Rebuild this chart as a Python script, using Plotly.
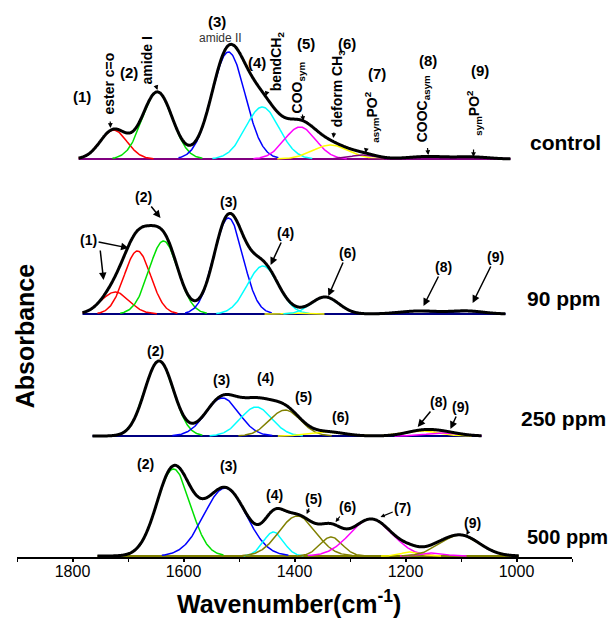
import numpy as np
import plotly.graph_objects as go

# ---- Band-fit parameters of each FTIR spectrum (centre cm-1, height a.u., sigma cm-1) ----
samples = ["control", "90 ppm", "250 ppm", "500 ppm"]

control_centers = [1726, 1647, 1519, 1458, 1390, 1335, 1275, 1160, 1080]
control_heights = [29, 67, 107, 52, 32, 14, 4, 2.5, 2]
control_sigmas = [24, 27, 30, 30, 28, 32, 25, 35, 30]

ppm90_centers = [1723, 1683, 1636, 1519, 1457, 1400, 1345, 1175, 1090]
ppm90_heights = [22, 63, 73, 96, 48, 0.8, 17, 3, 3]
ppm90_sigmas = [25, 24, 26, 26, 28, 18, 25, 35, 30]

ppm250_centers = [1644, 1530, 1469, 1417, 1340, 1170, 1130]
ppm250_heights = [75, 38, 29, 26, 4, 5, 3]
ppm250_sigmas = [26, 30, 28, 28, 30, 30, 30]

ppm500_centers = [1618, 1525, 1438, 1395, 1334, 1262, 1190, 1150, 1102]
ppm500_heights = [87, 68, 24, 40, 19, 37, 4, 3, 21]
ppm500_sigmas = [30, 38, 18, 33, 20, 38, 18, 20, 35]

# recorded wavenumber span of each spectrum
spans = [(1789, 1011), (1782, 1020), (1764, 1063), (1755, 996)]

# ---- styling ----
RED, GRN, BLU, CYN, MAG, YEL, OLV = "#ff0000", "#00e000", "#0000ff", "#00ffff", "#ff00ff", "#ffff00", "#808000"
NAVY, PURP = "#000080", "#800080"
band_colors = [
    [RED, GRN, BLU, CYN, MAG, YEL, PURP, PURP, PURP],
    [RED, RED, GRN, BLU, CYN, YEL, CYN, NAVY, NAVY],
    [GRN, BLU, CYN, OLV, YEL, YEL, MAG],
    [GRN, BLU, CYN, OLV, OLV, MAG, YEL, MAG, OLV],
]
baseline_colors = [PURP, NAVY, NAVY, OLV]
stack_offsets = [397, 242, 120, 0]

params = [
    (control_centers, control_heights, control_sigmas),
    (ppm90_centers, ppm90_heights, ppm90_sigmas),
    (ppm250_centers, ppm250_heights, ppm250_sigmas),
    (ppm500_centers, ppm500_heights, ppm500_sigmas),
]


def gauss(x, c, h, s):
    return h * np.exp(-((x - c) ** 2) / (2.0 * s * s))


fig = go.Figure()

for i, (cs, hs, ss) in enumerate(params):
    off = stack_offsets[i]
    hi, lo = spans[i]
    # baseline
    fig.add_trace(go.Scatter(x=[hi, lo], y=[off, off], mode="lines",
                             line=dict(color=baseline_colors[i], width=2),
                             hoverinfo="skip", showlegend=False))
    # fitted bands
    for c, h, s, col in zip(cs, hs, ss, band_colors[i]):
        a = max(lo, c - 3 * s)
        b = min(hi, c + 3 * s)
        xb = np.arange(a, b + 0.5, 1.0)
        fig.add_trace(go.Scatter(x=xb, y=off + gauss(xb, c, h, s), mode="lines",
                                 line=dict(color=col, width=1.5),
                                 hoverinfo="skip", showlegend=False))
    # envelope
    xs = np.arange(lo, hi + 0.5, 1.0)
    tot = np.zeros_like(xs, dtype=float)
    for c, h, s in zip(cs, hs, ss):
        tot += gauss(xs, c, h, s)
    fig.add_trace(go.Scatter(x=xs, y=off + tot, mode="lines",
                             line=dict(color="black", width=3, shape="spline"),
                             name=samples[i], showlegend=False))

FONT = "Arial, Liberation Sans, sans-serif"
ann = []


def label(x, y, text, size=14, angle=0, bold=True, color="black", tip=None,
          head=2, hsize=1.0, hwidth=1.5, sso=0):
    """Text label; with tip=(x, y) it carries an arrow pointing at that spot."""
    t = f"<b>{text}</b>" if bold else text
    a = dict(xref="x", yref="y", text=t, textangle=angle,
             font=dict(family=FONT, size=size, color=color))
    if tip is None:
        a.update(x=x, y=y, showarrow=False, xanchor="center", yanchor="middle")
    else:
        # arrow tail sits at the label; offsets in screen pixels
        a.update(x=tip[0], y=tip[1], showarrow=True,
                 ax=(tip[0] - x) * 0.555, ay=(tip[1] - y) * 1.0,
                 arrowhead=head, arrowsize=hsize, arrowwidth=hwidth,
                 arrowcolor="black", startstandoff=sso)
    ann.append(a)


# control
label(1782, 460, "(1)", 15)
label(1735, 472, "ester c=o", 14, -90, tip=(1731.5, 428), hsize=0.8, hwidth=1.2, sso=5)
label(1699, 484, "(2)", 15)
label(1665, 496, "amide I", 14, -90, tip=(1647, 466), hsize=0.8, hwidth=1.2)
label(1539, 535, "(3)", 15)
label(1533, 518, "amide II", 12, bold=False, color="#333333", tip=(1519, 509),
      hsize=0.8, hwidth=1.2)
label(1468, 494, "(4)", 15)
label(1431, 495, "bendCH<sub>2</sub>", 14, -90, tip=(1452, 460), hsize=0.8, hwidth=1.2)
label(1380, 513, "(5)", 15)
label(1393, 469, "COO<sub>sym</sub>", 14, -90, tip=(1384, 435), hsize=0.8, hwidth=1.2)
label(1305, 513, "(6)", 15)
label(1321, 468, "deform CH<sub>3</sub>", 14, -90, tip=(1330, 418), hsize=0.8, hwidth=1.2, sso=4)
label(1252, 483, "(7)", 15)
label(1261, 439, "<sub>asym</sub>PO<sup>2</sup>", 14, -90, tip=(1272, 403), hsize=0.8, hwidth=1.2, sso=5)
label(1159, 496, "(8)", 15)
label(1168, 447, "COOC<sub>asym</sub>", 14, -90, tip=(1159, 401), hsize=0.8, hwidth=1.2, sso=4)
label(1065, 486, "(9)", 15)
label(1077, 443, "<sub>sym</sub>PO<sup>2</sup>", 14, -90, tip=(1077.5, 399), hsize=0.8, hwidth=1.2, sso=12)
label(912, 414, "control", 21)

# 90 ppm
label(1771, 316, "(1)", tip=(1699, 308))
# second pointer leaving the same "(1)" label
ann.append(dict(x=1744, y=276, xref="x", yref="y", text="", showarrow=True,
                ax=-3.5, ay=-31, arrowhead=2, arrowsize=1.0, arrowwidth=1.5,
                arrowcolor="black"))
label(1672, 359, "(2)", tip=(1641.4, 338))
label(1519, 354, "(3)")
label(1416, 323, "(4)", tip=(1443, 291))
label(1305, 303, "(6)", tip=(1339, 260))
label(1132, 289, "(8)", tip=(1167.6, 250))
label(1038, 299, "(9)", tip=(1079, 253))
label(915, 258, "90 ppm", 21)

# 250 ppm
label(1650, 205, "(2)")
label(1532, 176, "(3)")
label(1452, 178, "(4)")
label(1384, 159, "(5)")
label(1317, 139, "(6)")
label(1141, 154, "(8)", tip=(1178, 129))
label(1101, 149, "(9)", tip=(1119, 127))
label(915, 138, "250 ppm", 21)

# 500 ppm
label(1668, 92, "(2)")
label(1519, 90, "(3)")
label(1436, 61, "(4)")
label(1366, 57, "(5)", tip=(1378, 42), hsize=0.7, hwidth=1.2)
label(1305, 49, "(6)", tip=(1326, 34), hsize=0.7, hwidth=1.2)
label(1205, 48, "(7)", tip=(1245, 39), hsize=0.7, hwidth=1.2)
label(1079, 33, "(9)", tip=(1090, 21), hsize=0.7, hwidth=1.2)
label(908, 19, "500 ppm", 20)

# axis titles
ann.append(dict(x=0.0144, y=0.398, xref="paper", yref="paper", text="<b>Absorbance</b>",
                textangle=-90, showarrow=False, xanchor="center", yanchor="middle",
                font=dict(family=FONT, size=25, color="black")))
ann.append(dict(x=0.49, y=-0.081, xref="paper", yref="paper",
                text="<b>Wavenumber(cm<sup>-1</sup>)</b>", showarrow=False,
                xanchor="center", yanchor="middle",
                font=dict(family=FONT, size=25, color="black")))

fig.update_layout(
    width=611, height=619,
    margin=dict(l=17, r=39, t=0, b=62),
    paper_bgcolor="white", plot_bgcolor="white",
    annotations=ann,
    xaxis=dict(range=[1900, 900], tickvals=[1800, 1600, 1400, 1200, 1000],
               ticks="outside", ticklen=3, tickwidth=1.5, tickcolor="black",
               showline=True, linecolor="black", linewidth=1.5,
               showgrid=False, zeroline=False, layer="below traces",
               ticklabelstandoff=-4,
               tickfont=dict(family=FONT, size=16, color="black"),
               tickprefix="<b>", ticksuffix="</b>",
               minor=dict(tickvals=[1900, 1700, 1500, 1300, 1100, 900], ticks="outside",
                          ticklen=3, tickwidth=1.2, tickcolor="black", showgrid=False)),
    yaxis=dict(range=[-1, 556], visible=False, showgrid=False, zeroline=False),
)

fig.write_html("out.html")
